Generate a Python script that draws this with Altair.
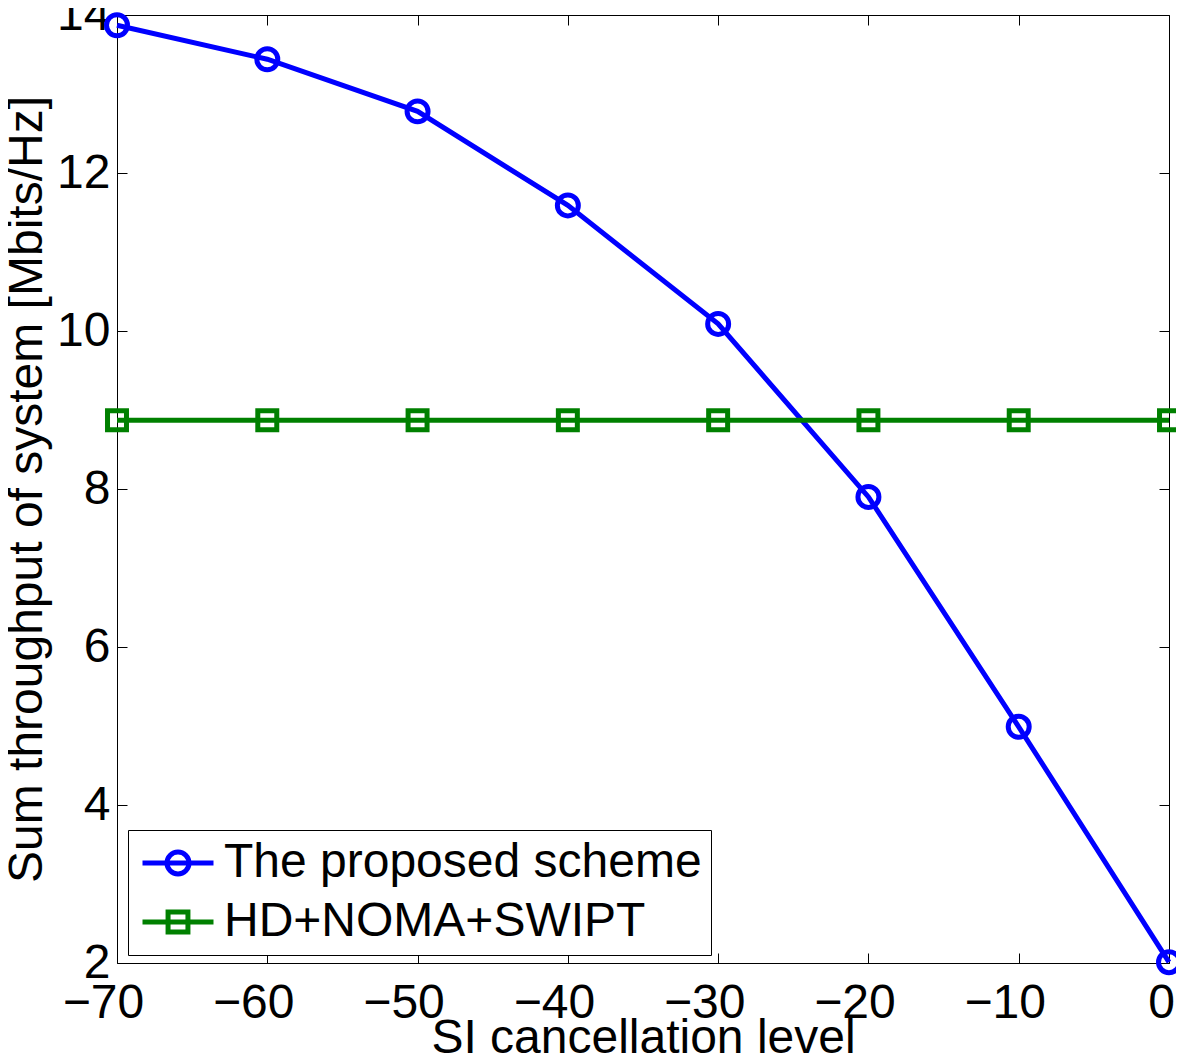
import altair as alt
import pandas as pd

# ---- data ----
si_level = [-70, -60, -50, -40, -30, -20, -10, 0]
proposed = [13.87, 13.44, 12.78, 11.59, 10.09, 7.90, 4.99, 2.01]
hd_noma_swipt = [8.87, 8.87, 8.87, 8.87, 8.87, 8.87, 8.87, 8.87]
series_names = ["The proposed scheme", "HD+NOMA+SWIPT"]
series_colors = ["#0000ff", "#008000"]
x_ticks = [-70, -60, -50, -40, -30, -20, -10, 0]
y_ticks = [2, 4, 6, 8, 10, 12, 14]

# legend glyphs: line segment with marker (unit box -1..1)
legend_paths = [
    "M-1,0L1,0M-0.31,0A0.31,0.31,0,1,1,0.31,0A0.31,0.31,0,1,1,-0.31,0Z",
    "M-1,0L1,0M-0.28,-0.28L0.28,-0.28L0.28,0.28L-0.28,0.28Z",
]

rows = []
for name, vals in zip(series_names, [proposed, hd_noma_swipt]):
    for lv, v in zip(si_level, vals):
        rows.append({"level": lv, "value": v, "series": name})
df = pd.DataFrame(rows)

FONT = "Liberation Sans, Arial, Helvetica, sans-serif"
FS = 48
LW = 5

xs = alt.Scale(domain=[-70, 0], nice=False, zero=False)
ys = alt.Scale(domain=[2, 14], nice=False, zero=False)
cs = alt.Scale(domain=series_names, range=series_colors)

common = dict(domain=False, grid=False, tickColor="black", tickWidth=1,
              tickSize=10, offset=-10, labelFont=FONT, titleFont=FONT,
              labelColor="black", titleColor="black", labelFontSize=FS,
              titleFontSize=FS, titleFontWeight="normal",
              labelOverlap=False, labelFlush=False)

bottom_axis = alt.Axis(orient="bottom", values=x_ticks,
                       title="SI cancellation level", labelPadding=16,
                       labelOffset={"condition": {"test": "datum.value < 0", "value": -14}, "value": -8},
                       titleY=99, titleBaseline="alphabetic", **common)
left_axis = alt.Axis(orient="left", values=y_ticks,
                     title="Sum throughput of system [Mbits/Hz]",
                     labelPadding=7, titleX=-86, titleBaseline="alphabetic",
                     **common)
top_axis = alt.Axis(orient="top", values=x_ticks, labels=False, title=None, **common)
right_axis = alt.Axis(orient="right", values=y_ticks, labels=False, title=None, **common)

base = alt.Chart(df)


def series_layers(i, shape, size, with_axes):
    sub = base.transform_filter(alt.datum.series == series_names[i])
    if with_axes:
        lx = alt.X("level:Q", scale=xs, axis=bottom_axis)
        ly = alt.Y("value:Q", scale=ys, axis=left_axis)
        px = alt.X("level:Q", scale=xs, axis=top_axis)
        py = alt.Y("value:Q", scale=ys, axis=right_axis)
    else:
        lx = px = alt.X("level:Q", scale=xs, axis=None)
        ly = py = alt.Y("value:Q", scale=ys, axis=None)
    line = sub.mark_line(strokeWidth=LW, color=series_colors[i]).encode(x=lx, y=ly)
    pts = sub.mark_point(shape=shape, filled=False, size=size, strokeWidth=LW,
                         opacity=1, color=series_colors[i]).encode(x=px, y=py)
    return [line, pts]


layers = series_layers(0, "circle", 440, True) + series_layers(1, "square", 360, False)

leg = alt.Legend(orient="none", legendX=11, legendY=815, title=None,
                 labelFont=FONT, labelFontSize=FS, labelColor="black",
                 labelLimit=0, labelOffset=8, fillColor="white",
                 strokeColor="black", padding=9, rowPadding=11,
                 clipHeight=48, symbolOffset=3,
                 symbolSize=5041, symbolStrokeWidth=LW, symbolOpacity=1)

legend_layer = base.transform_filter("false").mark_point(
    filled=False, strokeWidth=LW, opacity=1, size=5041
).encode(
    color=alt.Color("series:N", scale=cs, legend=leg),
    shape=alt.Shape("series:N", scale=alt.Scale(domain=series_names, range=legend_paths), legend=leg),
)

chart = alt.layer(*layers, legend_layer).resolve_axis(
    x="independent", y="independent"
).properties(
    width=1052, height=948,
    autosize=alt.AutoSizeParams(type="none"),
    padding={"left": 109, "top": 7, "right": 7, "bottom": 91},
    background="white",
).configure_view(stroke="black", strokeWidth=1)

chart.save("out.html", embed_options={"renderer": "svg", "actions": False})
